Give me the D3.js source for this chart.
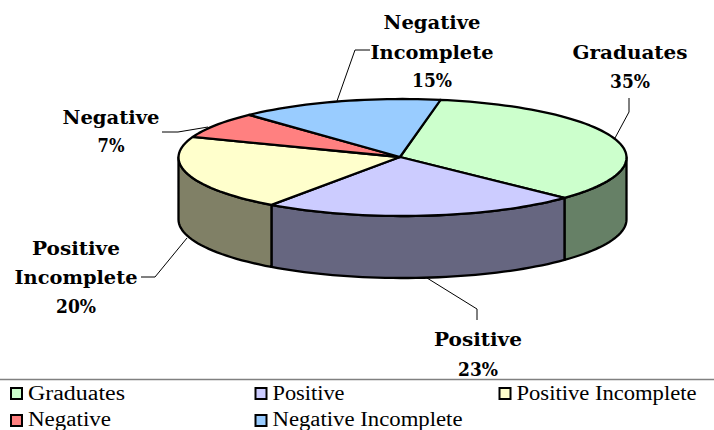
<!DOCTYPE html>
<html><head><meta charset="utf-8">
<script src="https://cdn.jsdelivr.net/npm/d3@7/dist/d3.min.js"></script>
<style>html,body{margin:0;background:#fff}svg{display:block}</style></head>
<body><svg id="c" width="714" height="430"></svg>
<script>
const categories = ["Graduates","Positive","Positive Incomplete","Negative","Negative Incomplete"];
const values = [35,23,20,7,15];
const colors = ["#CCFFCC","#CCCCFF","#FFFFCC","#FF8080","#99CCFF"];

const W=714,H=430, cx=402.5, cy=157.5, rx=224, ry=58.5, depth=62, hub=[400,157];
const FONT="'DejaVu Serif',serif", LEG="'Liberation Serif',serif";
const rad=d=>d*Math.PI/180;
const svg=d3.select("#c");
const pie=d3.pie().sort(null).startAngle(rad(9.8)).endAngle(rad(369.8))(values);
// perspective warp of the rim: points slide along the ellipse toward the viewer
const warpDelta=d3.scaleLinear().domain([0,90,180,220,270,316,370].map(rad)).range([0,-1.6,-2.6,-2.8,-0.8,1,0].map(rad));
const warp=a=>a+warpDelta(a);
const rim=(a,dy=0)=>{const w=warp(a);return [cx+rx*Math.sin(w),cy-ry*Math.cos(w)+dy];};
const samples=(a0,a1)=>{const n=Math.max(2,Math.ceil((a1-a0)/rad(2)));return d3.range(n+1).map(i=>a0+(a1-a0)*i/n);};
const line=d3.line();
const stroke=g=>g.attr("stroke","#000").attr("stroke-width",2.3).attr("stroke-linejoin","round");

// walls: only the part of the rim facing the viewer
const lo=warpInv(rad(90)), hi=warpInv(rad(270));
function warpInv(t){let a=t;for(let k=0;k<6;k++)a=t-warpDelta(a);return a;}
const gw=svg.append("g").call(stroke);
pie.forEach((p,i)=>{
  const a0=Math.max(p.startAngle,lo),a1=Math.min(p.endAngle,hi);
  if(a1<=a0)return;
  const top=samples(a0,a1).map(a=>rim(a));
  const bot=samples(a0,a1).reverse().map(a=>rim(a,depth));
  const c=d3.color(colors[i]);
  gw.append("path").attr("d",line(top.concat(bot))+"Z")
    .attr("fill",d3.rgb(c.r*.5,c.g*.5,c.b*.5));
});
// top slices
const gt=svg.append("g").call(stroke);
pie.forEach((p,i)=>{
  gt.append("path").attr("d",line([hub].concat(samples(p.startAngle,p.endAngle).map(a=>rim(a))))+"Z")
    .attr("fill",colors[i]);
});

// leaders
const leaders=[
 [[615,138],[629,112],[629,98]],
 [[427,278],[477,309],[477,320]],
 [[187,238],[155,277],[141,277]],
 [[208,127],[178,132],[162,132]],
 [[337,101],[355,50],[370,50]]];
svg.append("g").attr("fill","none").attr("stroke","#000").attr("stroke-width",1)
  .selectAll("path").data(leaders).join("path").attr("d",d=>line(d));

// labels
const labelPos=[
 {x:630,ys:[59,88],names:["Graduates"]},
 {x:478,ys:[346,376],names:["Positive"]},
 {x:76,ys:[255,284,313],names:["Positive","Incomplete"]},
 {x:111,ys:[124,152],names:["Negative"]},
 {x:432,ys:[29,59,87],names:["Negative","Incomplete"]}];
const widths={"Graduates":115,"Positive":88,"Incomplete":123,"Negative":97,"7%":27};
const gl=svg.append("g").attr("font-family",FONT).attr("font-weight","bold").attr("font-size",19).attr("fill","#000").attr("text-anchor","middle");
labelPos.forEach((l,i)=>{
  l.names.concat([values[i]+"%"]).forEach((t,j)=>{
    gl.append("text").attr("x",l.x).attr("y",l.ys[j]).text(t)
      .attr("textLength",widths[t]||40).attr("lengthAdjust","spacingAndGlyphs");
  });
});

// legend
svg.append("line").attr("x1",0).attr("x2",W).attr("y1",379.5).attr("y2",379.5).attr("stroke","#808080").attr("stroke-width",1.5);
const cols=[10,254.5,498.5], rows=[387,414], baselines=[400,425.5];
const legW=[97,72,180,83,190];
const gL=svg.append("g").attr("font-family",LEG).attr("font-size",20).attr("fill","#000");
categories.forEach((c,i)=>{
  const r=Math.floor(i/3),x=cols[i%3],y=rows[r];
  gL.append("rect").attr("x",x+1).attr("y",y+1).attr("width",11).attr("height",11).attr("fill",colors[i]).attr("stroke","#000").attr("stroke-width",2);
  gL.append("text").attr("x",x+18).attr("y",baselines[r]).attr("textLength",legW[i]).attr("lengthAdjust","spacingAndGlyphs").text(c);
});
</script></body></html>
